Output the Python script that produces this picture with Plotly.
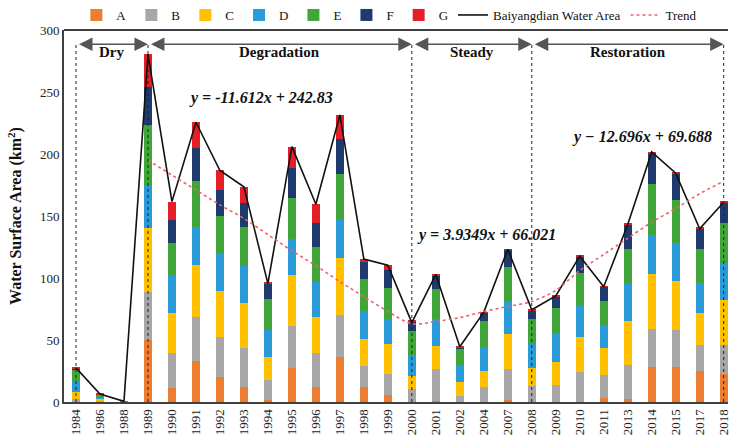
import plotly.graph_objects as go

# Survey years (categorical x positions)
years = ["1984", "1986", "1988", "1989", "1990", "1991", "1992", "1993", "1994",
         "1995", "1996", "1997", "1998", "1999", "2000", "2001", "2002", "2004",
         "2007", "2008", "2009", "2010", "2011", "2013", "2014", "2015", "2017", "2018"]

# Stacked components of water surface area (km2)
A = [0, 0, 0, 50.4, 10.9, 33.3, 20.5, 12.3, 1.6, 27.5, 12.0, 36.3, 12.0, 5.9,
     0, 0.8, 0, 0, 2.0, 0, 0, 0, 3.2, 2.4, 28.3, 28.3, 25.1, 22.9]
B = [2.4, 1.2, 0, 38.6, 28.8, 35.0, 32.3, 30.9, 16.0, 33.6, 27.2, 34.1, 17.1, 16.8,
     10.4, 25.6, 5.0, 12.3, 24.6, 12.8, 13.9, 24.3, 18.4, 27.5, 30.9, 30.1, 20.8, 23.2]
C = [5.9, 2.0, 0, 51.5, 31.8, 41.8, 36.8, 36.5, 18.4, 41.0, 29.6, 45.6, 22.1, 23.7,
     10.7, 18.6, 11.5, 13.0, 28.2, 14.4, 18.4, 28.0, 21.6, 35.1, 43.7, 39.5, 25.6, 36.3]
D = [8.8, 1.3, 0.5, 34.2, 29.8, 30.9, 30.9, 30.2, 21.9, 29.6, 27.7, 30.4, 22.1, 20.8,
     16.8, 21.9, 13.6, 18.4, 26.4, 19.2, 23.4, 26.1, 19.2, 29.9, 32.0, 30.1, 24.2, 29.8]
E = [9.3, 1.3, 0.3, 48.5, 27.2, 37.4, 29.9, 30.9, 25.0, 32.6, 28.3, 37.3, 26.2, 25.1,
     19.7, 24.0, 13.1, 21.3, 27.4, 20.5, 19.8, 25.9, 19.2, 28.8, 40.8, 35.2, 27.5, 32.3]
F = [0.3, 0.5, 0, 31.2, 18.5, 26.6, 20.6, 19.5, 12.6, 24.8, 19.2, 28.3, 13.5, 14.1,
     7.4, 11.2, 1.0, 7.0, 14.2, 7.0, 9.5, 13.3, 11.4, 19.5, 24.9, 21.3, 16.5, 16.6]
G = [1.0, 0.7, 0, 26.1, 14.6, 20.6, 15.7, 13.3, 0.5, 16.8, 15.5, 19.5, 2.2, 4.0,
     0.5, 0.8, 0.3, 0.5, 0.3, 0.5, 0.5, 0.5, 0.5, 0.5, 1.0, 1.0, 1.0, 1.0]

# Total lake area and fitted trend
water = [27.5, 6.5, 0.5, 280.5, 161.6, 225.6, 186.7, 173.6, 95.5, 205.9, 159.5, 231.5,
         115.2, 110.4, 64.0, 102.9, 44.5, 72.5, 123.2, 74.4, 85.5, 117.6, 93.0, 143.2,
         201.6, 184.5, 139.7, 161.1]
trend = [None, None, None, 195, 183, 171, 159, 148, 135, 122, 110, 97, 85, 73,
         63, 65, 68, 73, 77, 81, 90, 106, 119, 132, 145, 156, 168, 178]

# Development stages and their boundary years
phase_names = ["Dry", "Degradation", "Steady", "Restoration"]
phase_bounds = ["1984", "1989", "2000", "2008", "2018"]

# Regression equations per stage
equations = ["y = -11.612x + 242.83", "y = 3.9349x + 66.021", "y \u2212 12.696x + 69.688"]
eq_pos = [(7.7, 245), (17.1, 135), (23.6, 214)]

series = [("A", A, "#ED7D31"), ("B", B, "#A8A6A6"), ("C", C, "#FFC000"),
          ("D", D, "#2A9BD8"), ("E", E, "#41A63A"), ("F", F, "#1F3B6E"),
          ("G", G, "#E61E27")]

SERIF = "Liberation Serif"
xs = list(range(len(years)))

fig = go.Figure()
for name, vals, col in series:
    fig.add_trace(go.Bar(x=xs, y=vals, name=name, width=0.34,
                         marker=dict(color=col, line=dict(width=0))))

fig.add_trace(go.Scatter(x=xs, y=water, mode="lines", name="Baiyangdian Water Area",
                         line=dict(color="#111111", width=1.6)))
fig.add_trace(go.Scatter(x=xs, y=trend, mode="lines", name="Trend",
                         line=dict(color="#F0606A", width=1.6, dash="dot",
                                   shape="spline", smoothing=0.8)))

arrow_y = 288.6
label_y = 282
bidx = [years.index(b) for b in phase_bounds]

shapes = []
for b in bidx:
    shapes.append(dict(type="line", xref="x", yref="y", x0=b, x1=b, y0=0, y1=arrow_y,
                       line=dict(color="#222222", width=1, dash="dot"), layer="above"))
# top frame line
shapes.append(dict(type="line", xref="paper", yref="paper", x0=0, x1=1, y0=1, y1=1,
                   line=dict(color="#404040", width=2)))

annotations = []
for i, name in enumerate(phase_names):
    x0, x1 = bidx[i], bidx[i + 1]
    annotations.append(dict(x=x1, y=arrow_y, ax=x0, ay=arrow_y, xref="x", yref="y",
                            axref="x", ayref="y", text=" ", showarrow=True,
                            arrowside="end+start", arrowhead=2, startarrowhead=2,
                            arrowsize=1.8, startarrowsize=1.8, arrowwidth=1.5,
                            arrowcolor="#555555", standoff=0, startstandoff=0))
    annotations.append(dict(x=(x0 + x1) / 2, y=label_y, xref="x", yref="y",
                            text="<b>%s</b>" % name, showarrow=False,
                            font=dict(family=SERIF, size=15, color="#111111")))

for txt, (ex, ey) in zip(equations, eq_pos):
    annotations.append(dict(x=ex, y=ey, xref="x", yref="y", text="<b><i>%s</i></b>" % txt,
                            showarrow=False,
                            font=dict(family=SERIF, size=16, color="#111111")))

fig.update_layout(
    width=731, height=435,
    margin=dict(l=64, r=0, t=28, b=32),
    barmode="stack",
    plot_bgcolor="white", paper_bgcolor="white",
    showlegend=True,
    legend=dict(orientation="h", x=0.49, xanchor="center", y=1.0, yanchor="bottom",
                traceorder="normal",
                font=dict(family=SERIF, size=13, color="#111111"),
                itemwidth=30, tracegroupgap=0, bgcolor="rgba(0,0,0,0)"),
    shapes=shapes,
    annotations=annotations,
    xaxis=dict(range=[-0.5, 27.18], tickmode="array", tickvals=xs, ticktext=years,
               tickangle=-90, showgrid=False, zeroline=False, showline=True,
               linecolor="#404040", linewidth=2, ticks="", ticklabeloverflow="allow",
               tickfont=dict(family=SERIF, size=13, color="#222222")),
    yaxis=dict(range=[0, 300], tickvals=[0, 50, 100, 150, 200, 250, 300],
               showgrid=False, zeroline=False, showline=True, linecolor="#404040",
               linewidth=2, ticks="", ticklen=0,
               tickfont=dict(family=SERIF, size=13, color="#222222"),
               title=dict(text="<b>Water Surface Area (km<sup>2</sup>)</b>",
                          font=dict(family=SERIF, size=16, color="#111111"),
                          standoff=14)),
)

fig.write_html("out.html")
